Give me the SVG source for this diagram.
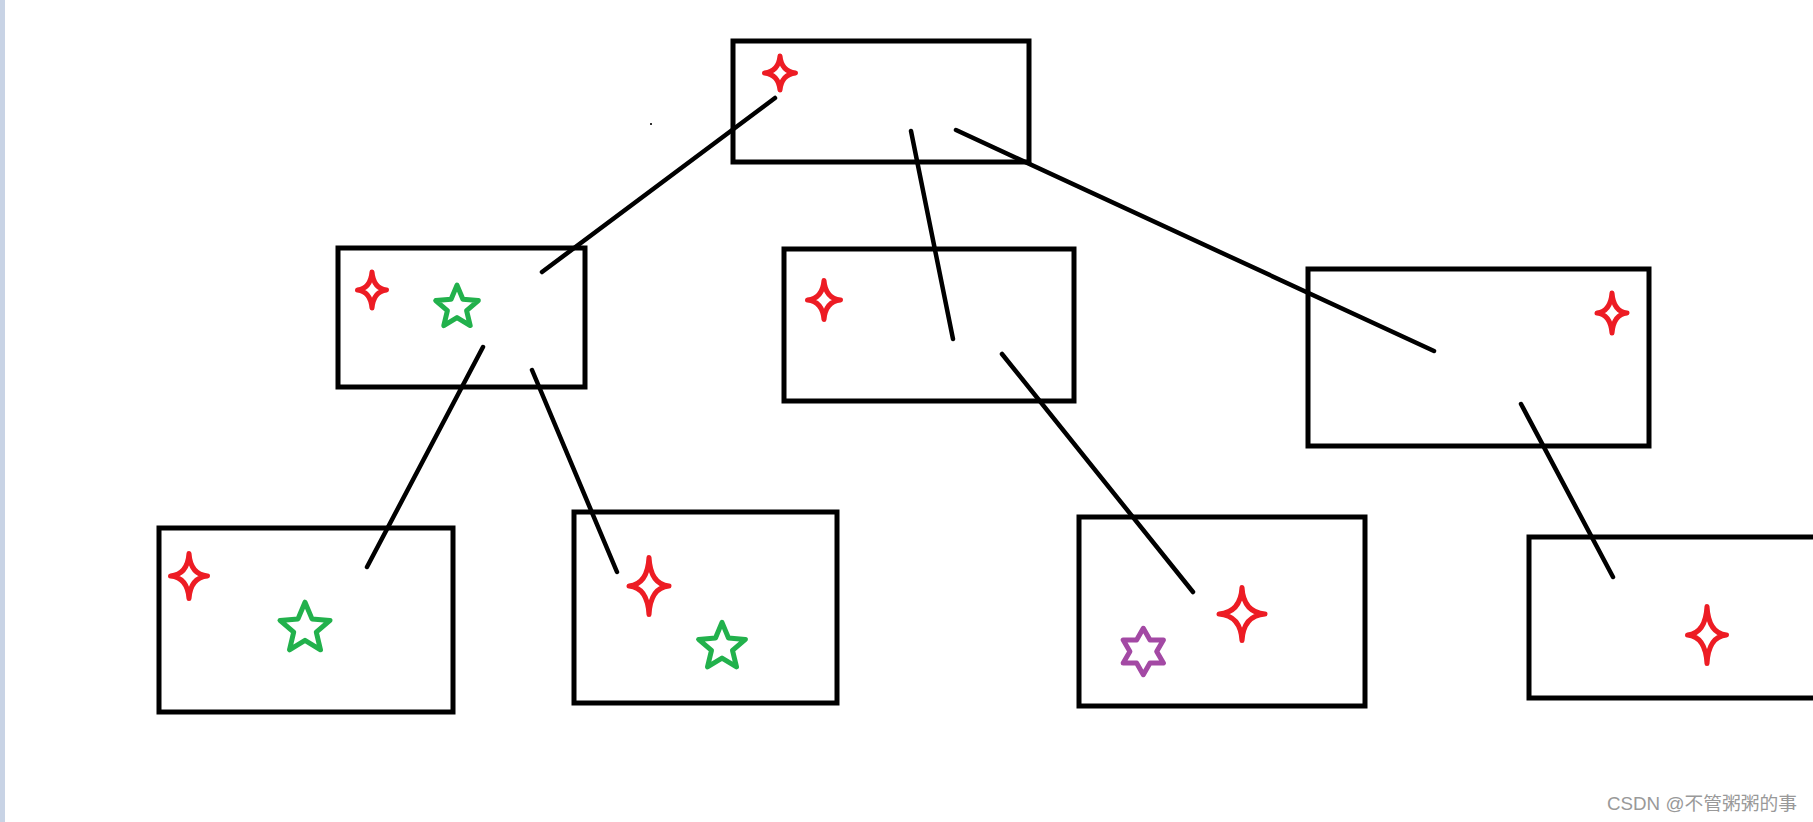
<svg xmlns="http://www.w3.org/2000/svg" width="1813" height="822" viewBox="0 0 1813 822">
<style>
.box{fill:none;stroke:#000;stroke-width:5}
.edge{stroke:#000;stroke-width:4.5;stroke-linecap:round;fill:none}
.spark{fill:none;stroke:#ed1c24;stroke-width:5;stroke-linejoin:round}
.star{fill:none;stroke:#22b14c;stroke-width:5;stroke-linejoin:round}
.hex{fill:none;stroke:#a349a4;stroke-width:5;stroke-linejoin:round}
.wm{font-family:"Liberation Sans","Noto Sans CJK SC",sans-serif;font-size:18.5px;fill:#999}
</style>
<rect x="0" y="0" width="1813" height="822" fill="#fff"/>
<rect x="0" y="0" width="5" height="822" fill="#c8d3e5"/>
<rect x="650" y="123" width="2" height="2" fill="#333"/>

<g id="root">
<rect class="box" x="733" y="41" width="296" height="121"/>
<path class="spark" d="M780,56 q1.5,15.5 15.5,17 q-14,1.5 -15.5,17 q-1.5,-15.5 -15.5,-17 q14,-1.5 15.5,-17z"/>
</g>
<g id="n1-left">
<rect class="box" x="338" y="248" width="247" height="139"/>
<path class="spark" d="M372,272 q1.5,16.5 14.5,18 q-13,1.5 -14.5,18 q-1.5,-16.5 -14.5,-18 q13,-1.5 14.5,-18z"/>
<polygon class="star" points="457,285.1 462.9,299.3 478.3,300.6 466.6,310.6 470.2,325.6 457,317.6 443.8,325.6 447.4,310.6 435.7,300.6 451.1,299.3"/>
</g>
<g id="n1-mid">
<rect class="box" x="784" y="249" width="290" height="152"/>
<path class="spark" d="M824,280.5 q1.5,18 16.5,19.5 q-15,1.5 -16.5,19.5 q-1.5,-18 -16.5,-19.5 q15,-1.5 16.5,-19.5z"/>
</g>
<g id="n1-right">
<rect class="box" x="1308" y="269" width="341" height="177"/>
<path class="spark" d="M1612,293 q1.5,18.5 15,20 q-13.5,1.5 -15,20 q-1.5,-18.5 -15,-20 q13.5,-1.5 15,-20z"/>
</g>
<g id="n2-a">
<rect class="box" x="159" y="528" width="294" height="184"/>
<path class="spark" d="M189,553.5 q1.5,21 18.5,22.5 q-17,1.5 -18.5,22.5 q-1.5,-21 -18.5,-22.5 q17,-1.5 18.5,-22.5z"/>
<polygon class="star" points="305,602.2 312,618.9 330,620.4 316.3,632.2 320.5,649.8 305,640.3 289.5,649.8 293.7,632.2 280,620.4 298,618.9"/>
</g>
<g id="n2-b">
<rect class="box" x="574" y="512" width="263" height="191"/>
<path class="spark" d="M649,557.5 q1.5,27 20,28.5 q-18.5,1.5 -20,28.5 q-1.5,-27 -20,-28.5 q18.5,-1.5 20,-28.5z"/>
<polygon class="star" points="722,622.4 728.5,638 745.4,639.4 732.5,650.4 736.5,666.9 722,658.1 707.5,666.9 711.5,650.4 698.6,639.4 715.5,638"/>
</g>
<g id="n2-c">
<rect class="box" x="1079" y="517" width="286" height="189"/>
<path class="spark" d="M1242,587.5 q1.5,25 23,26.5 q-21.5,1.5 -23,26.5 q-1.5,-25 -23,-26.5 q21.5,-1.5 23,-26.5z"/>
<polygon class="hex" points="1143.3,628.25 1150,639.9 1163.4,639.9 1156.7,651.5 1163.4,663.1 1150,663.1 1143.3,674.75 1136.6,663.1 1123.2,663.1 1129.9,651.5 1123.2,639.9 1136.6,639.9"/>
</g>
<g id="n2-d">
<rect class="box" x="1529" y="537" width="300" height="161"/>
<path class="spark" d="M1707,606.5 q1.5,27 19.5,28.5 q-18,1.5 -19.5,28.5 q-1.5,-27 -19.5,-28.5 q18,-1.5 19.5,-28.5z"/>
</g>

<g id="connectors">
<line class="edge" x1="775" y1="98" x2="542" y2="272"/>
<line class="edge" x1="911" y1="131" x2="953" y2="339"/>
<line class="edge" x1="956" y1="130" x2="1434" y2="351"/>
<line class="edge" x1="483" y1="347" x2="367" y2="567"/>
<line class="edge" x1="532" y1="370" x2="617" y2="572"/>
<line class="edge" x1="1002" y1="354" x2="1193" y2="592"/>
<line class="edge" x1="1521" y1="404" x2="1613" y2="577"/>
</g>

<text class="wm" x="1607" y="810" textLength="190" lengthAdjust="spacingAndGlyphs">CSDN @不管粥粥的事</text>
</svg>
